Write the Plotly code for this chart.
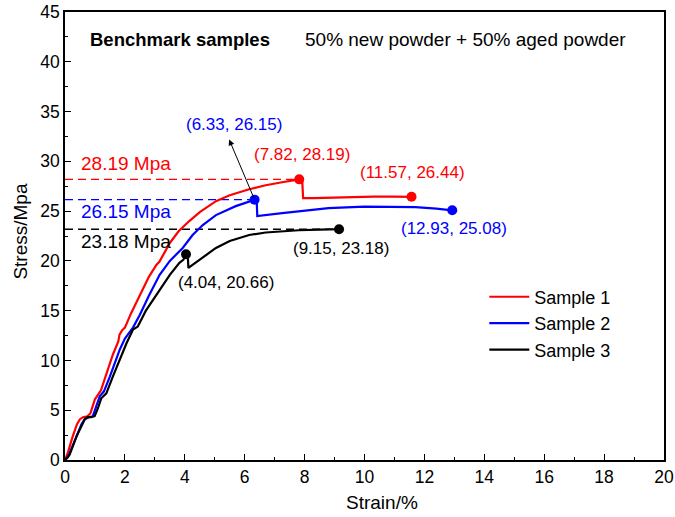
import plotly.graph_objects as go

# Stress-strain curves (strain in %, stress in MPa)
s1_strain = [0, 0.1, 0.25, 0.4, 0.5, 0.6, 0.75, 0.85, 1.0, 1.1, 1.2, 1.4, 1.6, 1.78, 1.82, 1.9, 2.0,
             2.2, 2.5, 2.8, 3.05, 3.15, 3.5, 3.8, 4.15, 4.5, 5.04, 5.5, 6.15, 6.7, 7.25, 7.82, 7.92,
             7.95, 8.3, 8.8, 9.5, 10.3, 11.0, 11.57]
s1_stress = [0, 0.8, 2.3, 3.6, 4.1, 4.3, 4.4, 4.7, 6.1, 6.6, 7.0, 8.8, 10.6, 11.9, 12.6, 13.0, 13.3,
             14.7, 16.6, 18.4, 19.6, 19.9, 21.8, 23.0, 24.0, 24.9, 26.0, 26.6, 27.2, 27.6, 27.9, 28.19, 28.15,
             26.3, 26.3, 26.35, 26.4, 26.45, 26.45, 26.44]

s2_strain = [0, 0.1, 0.21, 0.4, 0.55, 0.66, 0.8, 0.93, 1.05, 1.16, 1.3, 1.5, 1.83, 2.0, 2.27, 2.5,
             2.8, 3.16, 3.5, 3.93, 4.26, 4.6, 5.04, 5.4, 5.7, 6.0, 6.33, 6.4, 6.42, 7.25, 7.81, 8.8,
             10.0, 11.0, 11.7, 12.4, 12.93]
s2_stress = [0, 0.3, 1.1, 2.6, 3.6, 4.1, 4.3, 4.4, 5.5, 6.4, 6.9, 8.4, 11.1, 12.2, 13.3, 14.6,
             16.5, 18.6, 20.0, 21.3, 22.6, 23.6, 24.6, 25.1, 25.5, 25.8, 26.15, 26.1, 24.5, 24.8, 25.0, 25.3,
             25.45, 25.45, 25.4, 25.25, 25.08]

s3_strain = [0, 0.15, 0.39, 0.55, 0.66, 0.75, 0.88, 0.99, 1.1, 1.21, 1.3, 1.38, 1.6, 1.83, 2.05,
             2.27, 2.43, 2.7, 3.16, 3.5, 3.82, 3.95, 4.04, 4.1, 4.12, 4.5, 5.04, 5.5, 6.15, 6.7,
             7.25, 7.8, 8.5, 9.15]
s3_stress = [0, 0.5, 2.4, 3.5, 4.1, 4.3, 4.3, 4.4, 5.2, 6.2, 6.5, 6.7, 8.4, 10.1, 11.7,
             13.1, 13.4, 15.0, 17.1, 18.6, 19.8, 20.1, 20.66, 20.6, 19.3, 20.1, 21.3, 22.0, 22.6, 22.85,
             23.0, 23.08, 23.15, 23.18]

# Labelled key points
s1_pts = [(7.82, 28.19), (11.57, 26.44)]
s2_pts = [(6.33, 26.15), (12.93, 25.08)]
s3_pts = [(4.04, 20.66), (9.15, 23.18)]

# Reference strength levels
levels = [28.19, 26.15, 23.18]
level_ends = [7.82, 6.33, 9.15]
level_labels = ["28.19 Mpa", "26.15 Mpa", "23.18 Mpa"]

names = ["Sample 1", "Sample 2", "Sample 3"]
colors = ["#ff0000", "#0000ff", "#000000"]

FONT = "Liberation Sans, Arial, sans-serif"

fig = go.Figure()

# dashed reference levels
for lv, xe, c in zip(levels, level_ends, colors):
    fig.add_trace(go.Scatter(x=[0, xe], y=[lv, lv], mode="lines",
                             line=dict(color=c, width=1.4, dash="8px,5px"),
                             showlegend=False, hoverinfo="skip"))

for xs, ys, nm, c in zip([s1_strain, s2_strain, s3_strain],
                         [s1_stress, s2_stress, s3_stress], names, colors):
    fig.add_trace(go.Scatter(x=xs, y=ys, mode="lines", name=nm,
                             line=dict(color=c, width=2.2)))

for pts, c in zip([s1_pts, s2_pts, s3_pts], colors):
    fig.add_trace(go.Scatter(x=[p[0] for p in pts], y=[p[1] for p in pts], mode="markers",
                             marker=dict(color=c, size=10), showlegend=False, hoverinfo="skip"))

# point labels: (point, colour, xshift, yshift)
point_labels = [
    (s1_pts[0], colors[0], 3, 25),
    (s1_pts[1], colors[0], 1, 24),
    (s2_pts[1], colors[1], 2, -18),
    (s3_pts[1], colors[2], 2, -19),
    (s3_pts[0], colors[2], 40, -28),
    (s2_pts[0], colors[1], -21, 75),
]
for (px, py), c, dx, dy in point_labels:
    fig.add_annotation(x=px, y=py, text=f"({px:.2f}, {py:.2f})", showarrow=False,
                       xshift=dx, yshift=dy, font=dict(size=17, color=c, family=FONT))

# arrow from the Sample 2 yield point toward its label
fig.add_annotation(x=5.48, y=32.2, ax=s2_pts[0][0], ay=s2_pts[0][1], axref="x", ayref="y",
                   xref="x", yref="y", text="", showarrow=True, arrowhead=2, arrowsize=1.2,
                   arrowwidth=1, arrowcolor="#000000", standoff=0, startstandoff=0)

# level labels
for lv, txt, c, dy in zip(levels, level_labels, colors, [16, -12, -12]):
    fig.add_annotation(x=0.47, y=lv, text=txt, showarrow=False, xanchor="left",
                       yshift=dy, font=dict(size=19, color=c, family=FONT))

fig.add_annotation(x=0.038, y=0.938, xref="paper", yref="paper", text="<b>Benchmark samples</b>",
                   showarrow=False, xanchor="left", yanchor="middle",
                   font=dict(size=18.5, color="#000000", family=FONT))
fig.add_annotation(x=0.397, y=0.938, xref="paper", yref="paper",
                   text="50% new powder + 50% aged powder",
                   showarrow=False, xanchor="left", yanchor="middle",
                   font=dict(size=19, color="#000000", family=FONT))

# axis titles
fig.add_annotation(x=0.53, y=-0.094, xref="paper", yref="paper", text="Strain/%",
                   showarrow=False, xanchor="center", yanchor="middle",
                   font=dict(size=19, color="#000000", family=FONT))
fig.add_annotation(x=-0.075, y=0.51, xref="paper", yref="paper", text="Stress/Mpa",
                   showarrow=False, xanchor="center", yanchor="middle", textangle=-90,
                   font=dict(size=19, color="#000000", family=FONT))

axis_common = dict(showline=True, linecolor="#000000", linewidth=1.5, mirror=True,
                   ticks="inside", ticklen=6, tickwidth=1.2, tickcolor="#000000",
                   showgrid=False, zeroline=False, automargin=False,
                   ticklabeloverflow="allow",
                   tickfont=dict(size=17.5, color="#000000", family=FONT))

fig.update_xaxes(range=[0, 20], dtick=2, tick0=0,
                 minor=dict(ticks="inside", ticklen=3, dtick=1, tickcolor="#000000", showgrid=False),
                 **axis_common)
fig.update_yaxes(range=[0, 45], dtick=5, tick0=0,
                 minor=dict(ticks="inside", ticklen=3, dtick=2.5, tickcolor="#000000", showgrid=False),
                 **axis_common)

fig.update_layout(
    width=675, height=517,
    margin=dict(l=65, r=11, t=12, b=57),
    plot_bgcolor="#ffffff", paper_bgcolor="#ffffff",
    font=dict(family=FONT, color="#000000"),
    legend=dict(x=0.70, y=0.405, xanchor="left", yanchor="top", bgcolor="rgba(0,0,0,0)",
                font=dict(size=18, color="#000000", family=FONT), tracegroupgap=0,
                itemwidth=40),
    showlegend=True,
)

fig.write_html("out.html")
